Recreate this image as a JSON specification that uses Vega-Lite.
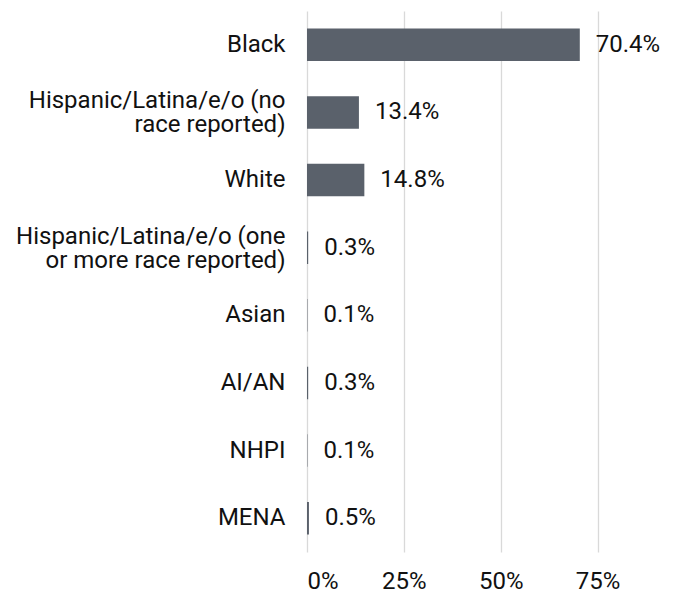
{
  "$schema": "https://vega.github.io/schema/vega-lite/v6.json",
  "width": 310,
  "height": 541,
  "autosize": "none",
  "padding": {"left": 307, "top": 11, "right": 61, "bottom": 43},
  "background": "white",
  "config": {
    "view": {"stroke": null},
    "font": "Roboto",
    "text": {"font": "Roboto"}
  },
  "data": {
    "values": [
      {"group": "Black", "share": 0.704},
      {"group": "Hispanic/Latina/e/o (no race reported)", "share": 0.134},
      {"group": "White", "share": 0.148},
      {"group": "Hispanic/Latina/e/o (one or more race reported)", "share": 0.003},
      {"group": "Asian", "share": 0.001},
      {"group": "AI/AN", "share": 0.003},
      {"group": "NHPI", "share": 0.001},
      {"group": "MENA", "share": 0.005}
    ]
  },
  "encoding": {
    "y": {
      "field": "group",
      "type": "nominal",
      "sort": null,
      "scale": {"paddingInner": 0.52, "paddingOuter": 0.26},
      "axis": {
        "title": null,
        "domain": false,
        "ticks": false,
        "grid": false,
        "labelFont": "Roboto",
        "labelFontSize": 24,
        "labelColor": "#111111",
        "labelPadding": 22,
        "labelLineHeight": 24,
        "labelLimit": 400,
        "labelExpr": "datum.label == 'Hispanic/Latina/e/o (no race reported)' ? ['Hispanic/Latina/e/o (no', 'race reported)'] : datum.label == 'Hispanic/Latina/e/o (one or more race reported)' ? ['Hispanic/Latina/e/o (one', 'or more race reported)'] : datum.label",
        "labelOffset": {"condition": {"test": "indexof(datum.value, 'Hispanic') == 0", "value": -11}, "value": 0}
      }
    },
    "x": {
      "field": "share",
      "type": "quantitative",
      "scale": {"domain": [0, 0.8], "nice": false},
      "axis": {
        "title": null,
        "format": ".0%",
        "values": [0, 0.25, 0.5, 0.75],
        "domain": false,
        "ticks": false,
        "grid": true,
        "gridColor": "#d9d9d9",
        "gridWidth": 1.3,
        "labelFont": "Roboto",
        "labelFontSize": 24,
        "labelColor": "#111111",
        "labelPadding": 17
      }
    }
  },
  "layer": [
    {"mark": {"type": "bar", "color": "#5a616b"}},
    {
      "mark": {"type": "text", "align": "left", "baseline": "middle", "dx": 16, "fontSize": 24, "font": "Roboto", "color": "#111111"},
      "encoding": {"text": {"field": "share", "type": "quantitative", "format": ".1%"}}
    }
  ]
}
